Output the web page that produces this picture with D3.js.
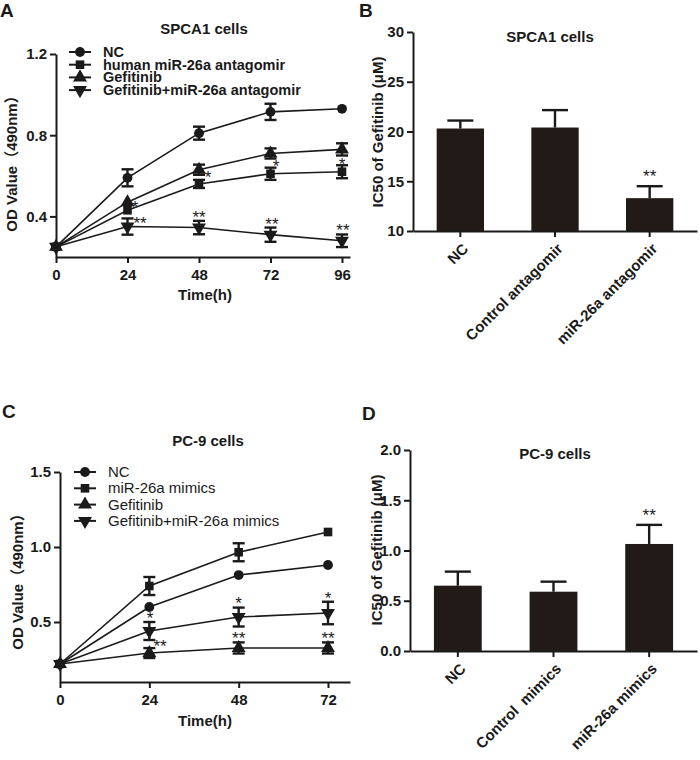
<!DOCTYPE html>
<html><head><meta charset="utf-8">
<script src="https://cdn.jsdelivr.net/npm/d3@7"></script>
<style>
body{margin:0;background:#fff;}
text{font-family:"Liberation Sans",Arial,"Noto Sans CJK SC",sans-serif;font-weight:bold;fill:#1a1a1a;}
</style></head>
<body><svg id="c" width="700" height="760"></svg>
<script>
// ---------- DATA ----------
// Panel A (SPCA1 cells, OD value)
const timeA = [0, 24, 48, 72, 96];
const seriesA = ["NC", "human miR-26a antagomir", "Gefitinib", "Gefitinib+miR-26a antagomir"];
const aNC      = [0.25, 0.59, 0.81, 0.915, 0.93];
const aNCErr   = [0.01, 0.042, 0.032, 0.04, 0.006];
const aAnt     = [0.25, 0.43, 0.56, 0.61, 0.62];
const aAntErr  = [0.01, 0.008, 0.02, 0.03, 0.032];
const aGef     = [0.25, 0.47, 0.63, 0.71, 0.73];
const aGefErr  = [0.01, 0.008, 0.025, 0.025, 0.03];
const aGA      = [0.25, 0.35, 0.345, 0.31, 0.28];
const aGAErr   = [0.01, 0.04, 0.033, 0.035, 0.031];
const aTicksY  = [0.4, 0.8, 1.2];
const aTicksX  = [0, 24, 48, 72, 96];
// significance marks A: [time position, value position, label]
const aStarT = [26.5, 51, 73.9, 96, 28.2, 48, 72.5, 96.3];
const aStarV = [0.461, 0.609, 0.663, 0.673, 0.382, 0.412, 0.377, 0.348];
const aStarL = ["*", "*", "*", "*", "**", "**", "**", "**"];

// Panel B (SPCA1 IC50)
const catsB = ["NC", "Control antagomir", "miR-26a antagomir"];
const valsB = [20.3, 20.4, 13.3];
const errB  = [0.8, 1.75, 1.2];
const sigB  = ["", "", "**"];
const ticksB = [10, 15, 20, 25, 30];

// Panel C (PC-9 cells, OD value)
const timeC = [0, 24, 48, 72];
const seriesC = ["NC", "miR-26a mimics", "Gefitinib", "Gefitinib+miR-26a mimics"];
const cNC     = [0.22, 0.60, 0.813, 0.88];
const cNCErr  = [0.01, 0.008, 0.008, 0.008];
const cMim    = [0.22, 0.74, 0.965, 1.10];
const cMimErr = [0.01, 0.06, 0.06, 0.008];
const cGef    = [0.22, 0.293, 0.327, 0.327];
const cGefErr = [0.01, 0.033, 0.037, 0.037];
const cGM     = [0.22, 0.44, 0.533, 0.56];
const cGMErr  = [0.01, 0.06, 0.063, 0.075];
const cTicksY = [0.5, 1.0, 1.5];
const cTicksX = [0, 24, 48, 72];
const cStarT = [24.2, 48, 72, 26.9, 48, 72];
const cStarV = [0.547, 0.647, 0.68, 0.36, 0.413, 0.413];
const cStarL = ["*", "*", "*", "**", "**", "**"];

// Panel D (PC-9 IC50)
const catsD = ["NC", "Control  mimics", "miR-26a mimics"];
const valsD = [0.65, 0.59, 1.065];
const errD  = [0.14, 0.10, 0.19];
const sigD  = ["", "", "**"];
const ticksD = [0.0, 0.5, 1.0, 1.5, 2.0];

// ---------- DRAW ----------
const svg = d3.select("#c");
svg.append("rect").attr("width",700).attr("height",760).attr("fill","#fff");
const INK = "#1a1a1a";
const BAR = "#221a17";

const shapes = [d3.symbolCircle, d3.symbolSquare, d3.symbolTriangle, d3.symbolTriangle];
const sizes  = [76, 74, 84, 84];
const rots   = [0, 0, 0, 180];

function styleAxis(g){
  g.selectAll("path.domain").attr("stroke",INK).attr("stroke-width",2);
  g.selectAll(".tick line").attr("stroke",INK).attr("stroke-width",2);
  g.selectAll(".tick text").attr("fill",INK).style("font-size","15px").style("font-weight","bold")
   .style("font-family",'"Liberation Sans",Arial,sans-serif');
}

function lineChart(o){
  const g = svg.append("g");
  const x = d3.scaleLinear().domain(o.xDomain).range([o.x0, o.x1]);
  const y = d3.scaleLinear().domain(o.yDomain).range([o.y0, o.y1]);
  const ax = g.append("g").attr("transform",`translate(0,${o.y0})`)
    .call(d3.axisBottom(x).tickValues(o.ticksX).tickSize(6).tickPadding(6).tickSizeOuter(0).tickFormat(d3.format("d")));
  styleAxis(ax);
  const ay = g.append("g").attr("transform",`translate(${o.x0},0)`)
    .call(d3.axisLeft(y).tickValues(o.ticksY).tickSize(6).tickPadding(3).tickSizeOuter(0).tickFormat(d3.format(".1f")));
  styleAxis(ay);
  const line = d3.line().x((d,i)=>x(o.t[i])).y(d=>y(d));
  o.series.forEach((s,k)=>{
    g.append("path").datum(s.v).attr("d",line).attr("fill","none").attr("stroke",INK).attr("stroke-width",1.6);
  });
  o.series.forEach((s,k)=>{
    s.v.forEach((v,i)=>{
      const e = s.e[i]; const cx = x(o.t[i]);
      if (e*Math.abs(y(0)-y(1)) > 3){
        g.append("line").attr("x1",cx).attr("x2",cx).attr("y1",y(v-e)).attr("y2",y(v+e)).attr("stroke",INK).attr("stroke-width",2.4);
        [v-e, v+e].forEach(w=>g.append("line").attr("x1",cx-6).attr("x2",cx+6).attr("y1",y(w)).attr("y2",y(w)).attr("stroke",INK).attr("stroke-width",2.4));
      }
      g.append("path").attr("d",d3.symbol().type(shapes[k]).size(sizes[k])())
        .attr("transform",`translate(${cx},${y(v)}) rotate(${rots[k]})`).attr("fill",INK);
    });
  });
  o.starT.forEach((t,i)=>{
    g.append("text").attr("x",x(t)).attr("y",y(o.starV[i])+9).attr("text-anchor","middle")
      .style("font-size","17px").style("font-weight","normal").text(o.starL[i]);
  });
  o.names.forEach((n,k)=>{
    const ly = o.legY + k*o.legDy;
    g.append("line").attr("x1",o.legX-11).attr("x2",o.legX+11).attr("y1",ly).attr("y2",ly).attr("stroke",INK).attr("stroke-width",2);
    g.append("path").attr("d",d3.symbol().type(shapes[k]).size(sizes[k])())
      .attr("transform",`translate(${o.legX},${ly}) rotate(${rots[k]})`).attr("fill",INK);
    g.append("text").attr("x",o.legX+23).attr("y",ly+5).style("font-size",o.legFs+"px").style("font-weight",o.legFw).text(n);
  });
  g.append("text").attr("x",o.titleX).attr("y",o.titleY).attr("text-anchor","middle").style("font-size","15px").text(o.title);
  g.append("text").attr("x",205).attr("y",o.xlabY).attr("text-anchor","middle").style("font-size","15px").text("Time(h)");
  g.append("text").attr("transform",`translate(${o.ylabX},${o.ylabY}) rotate(-90)`).attr("text-anchor","middle")
    .style("font-size","15px").text("OD Value（490nm）");
}

function barChart(o){
  const g = svg.append("g");
  const x = d3.scaleBand().domain(o.cats).range([o.x0, o.x1]).paddingInner(0.5).paddingOuter(0.25);
  const y = d3.scaleLinear().domain(o.yDomain).range([o.y0, o.y1]);
  g.selectAll("rect.bar").data(o.vals).join("rect")
    .attr("x",(d,i)=>x(o.cats[i])).attr("width",x.bandwidth())
    .attr("y",d=>y(d)).attr("height",d=>o.y0-y(d)).attr("fill",BAR);
  o.vals.forEach((v,i)=>{
    const cx = x(o.cats[i]) + x.bandwidth()/2;
    g.append("line").attr("x1",cx).attr("x2",cx).attr("y1",y(v)).attr("y2",y(v+o.err[i])).attr("stroke",INK).attr("stroke-width",2.4);
    g.append("line").attr("x1",cx-13).attr("x2",cx+13).attr("y1",y(v+o.err[i])).attr("y2",y(v+o.err[i])).attr("stroke",INK).attr("stroke-width",2.4);
    if (o.sig[i]) g.append("text").attr("x",cx).attr("y",y(v+o.err[i])-4).attr("text-anchor","middle")
      .style("font-size","17px").style("font-weight","normal").text(o.sig[i]);
  });
  const ax = g.append("g").attr("transform",`translate(0,${o.y0})`)
    .call(d3.axisBottom(x).tickSize(6).tickSizeOuter(0).tickFormat(""));
  styleAxis(ax);
  ax.selectAll(".tick").append("text").attr("transform","translate(5,15) rotate(-45)")
    .attr("text-anchor","end").attr("dy","0.35em").attr("fill",INK)
    .style("font-size","15px").style("white-space","pre").text(d=>d);
  const ay = g.append("g").attr("transform",`translate(${o.x0},0)`)
    .call(d3.axisLeft(y).tickValues(o.ticks).tickSize(6).tickPadding(3).tickSizeOuter(0).tickFormat(o.fmt));
  styleAxis(ay);
  g.append("text").attr("x",o.titleX).attr("y",o.titleY).attr("text-anchor","middle").style("font-size","15px").text(o.title);
  g.append("text").attr("transform",`translate(${o.ylabX},${o.ylabY}) rotate(-90)`).attr("text-anchor","middle")
    .style("font-size","15px").text("IC50 of Gefitinib (μM)");
}

lineChart({
  x0:56, x1:350, xDomain:[0, 96*294/286], y0:257, y1:54, yDomain:[0.2,1.2],
  t:timeA, ticksX:aTicksX, ticksY:aTicksY,
  series:[{v:aNC,e:aNCErr},{v:aAnt,e:aAntErr},{v:aGef,e:aGefErr},{v:aGA,e:aGAErr}],
  names:seriesA, legX:80, legY:52, legDy:12.7, legFs:14.5, legFw:"bold",
  starT:aStarT, starV:aStarV, starL:aStarL,
  title:"SPCA1 cells", titleX:204, titleY:34, xlabY:300, ylabX:17, ylabY:160
});

barChart({
  x0:413, x1:697, y0:231, y1:32, yDomain:[10,30], cats:catsB, vals:valsB, err:errB, sig:sigB,
  ticks:ticksB, fmt:d3.format("d"), title:"SPCA1 cells", titleX:550, titleY:42, ylabX:383, ylabY:132
});

lineChart({
  x0:60, x1:350, xDomain:[0, 72*290/268], y0:682, y1:472, yDomain:[0.1,1.5],
  t:timeC, ticksX:cTicksX, ticksY:cTicksY,
  series:[{v:cNC,e:cNCErr},{v:cMim,e:cMimErr},{v:cGef,e:cGefErr},{v:cGM,e:cGMErr}],
  names:seriesC, legX:85, legY:472, legDy:16.3, legFs:15, legFw:"normal",
  starT:cStarT, starV:cStarV, starL:cStarL,
  title:"PC-9 cells", titleX:208, titleY:446, xlabY:726, ylabX:23, ylabY:578
});

barChart({
  x0:410, x1:697, y0:651, y1:450, yDomain:[0,2], cats:catsD, vals:valsD, err:errD, sig:sigD,
  ticks:ticksD, fmt:d3.format(".1f"), title:"PC-9 cells", titleX:555, titleY:459, ylabX:382, ylabY:550
});

// panel letters
[["A",0,17],["B",359,17],["C",2,418],["D",362,420]].forEach(p=>{
  svg.append("text").attr("x",p[1]).attr("y",p[2]).style("font-size","19px").style("font-weight","900").text(p[0]);
});
</script></body></html>
